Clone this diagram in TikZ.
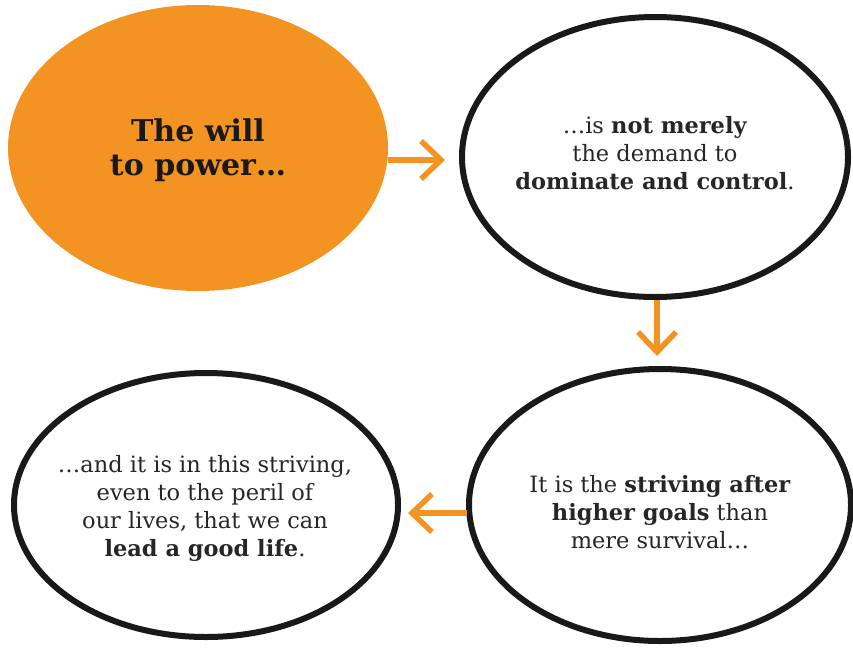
\documentclass[tikz,border=0pt]{standalone}
\usepackage{fontspec}
\setmainfont{DejaVu Serif}
\usetikzlibrary{arrows.meta}
\definecolor{orng}{HTML}{F39322}
\tikzset{
  bubble/.style={draw=black!90, line width=6pt},
  flow/.style={draw=orng, line width=5.5pt, -{Straight Barb[length=20pt,width=38pt,line width=5.5pt]}},
  txt/.style={align=center, font=\fontsize{22.5}{28}\selectfont, text=black!85}
}
\begin{document}
\begin{tikzpicture}[x=1pt,y=-1pt]
\useasboundingbox (0,0) rectangle (853,648);
\fill[orng] (198,148) ellipse [x radius=190, y radius=143];
\node[align=center, font=\bfseries\fontsize{30}{34}\selectfont, text=black!90] (t1) at (198,150) {The will\\to power\dots};
\draw[bubble] (655,157) ellipse [x radius=193, y radius=140];
\draw[bubble] (660,505) ellipse [x radius=191, y radius=136];
\draw[bubble] (206,505) ellipse [x radius=192, y radius=132];
\node[txt] (t2) at (655,153) {\dots is \textbf{not merely}\\the demand to\\\textbf{dominate and control}.};
\node[txt] (t3) at (660,512) {It is the \textbf{striving after}\\\textbf{higher goals} than\\mere survival\dots};
\node[txt] (t4) at (205,508) {\dots and it is in this striving,\\even to the peril of\\our lives, that we can\\\textbf{lead a good life}.};
\coordinate (a1s) at (388,160);
\coordinate (a1e) at (445,160);
\coordinate (a2s) at (657,300);
\coordinate (a2e) at (657,356);
\coordinate (a3s) at (467,513);
\coordinate (a3e) at (408,513);
\draw[flow] (a1s) -- (a1e);
\draw[flow] (a2s) -- (a2e);
\draw[flow] (a3s) -- (a3e);
\end{tikzpicture}
\end{document}
